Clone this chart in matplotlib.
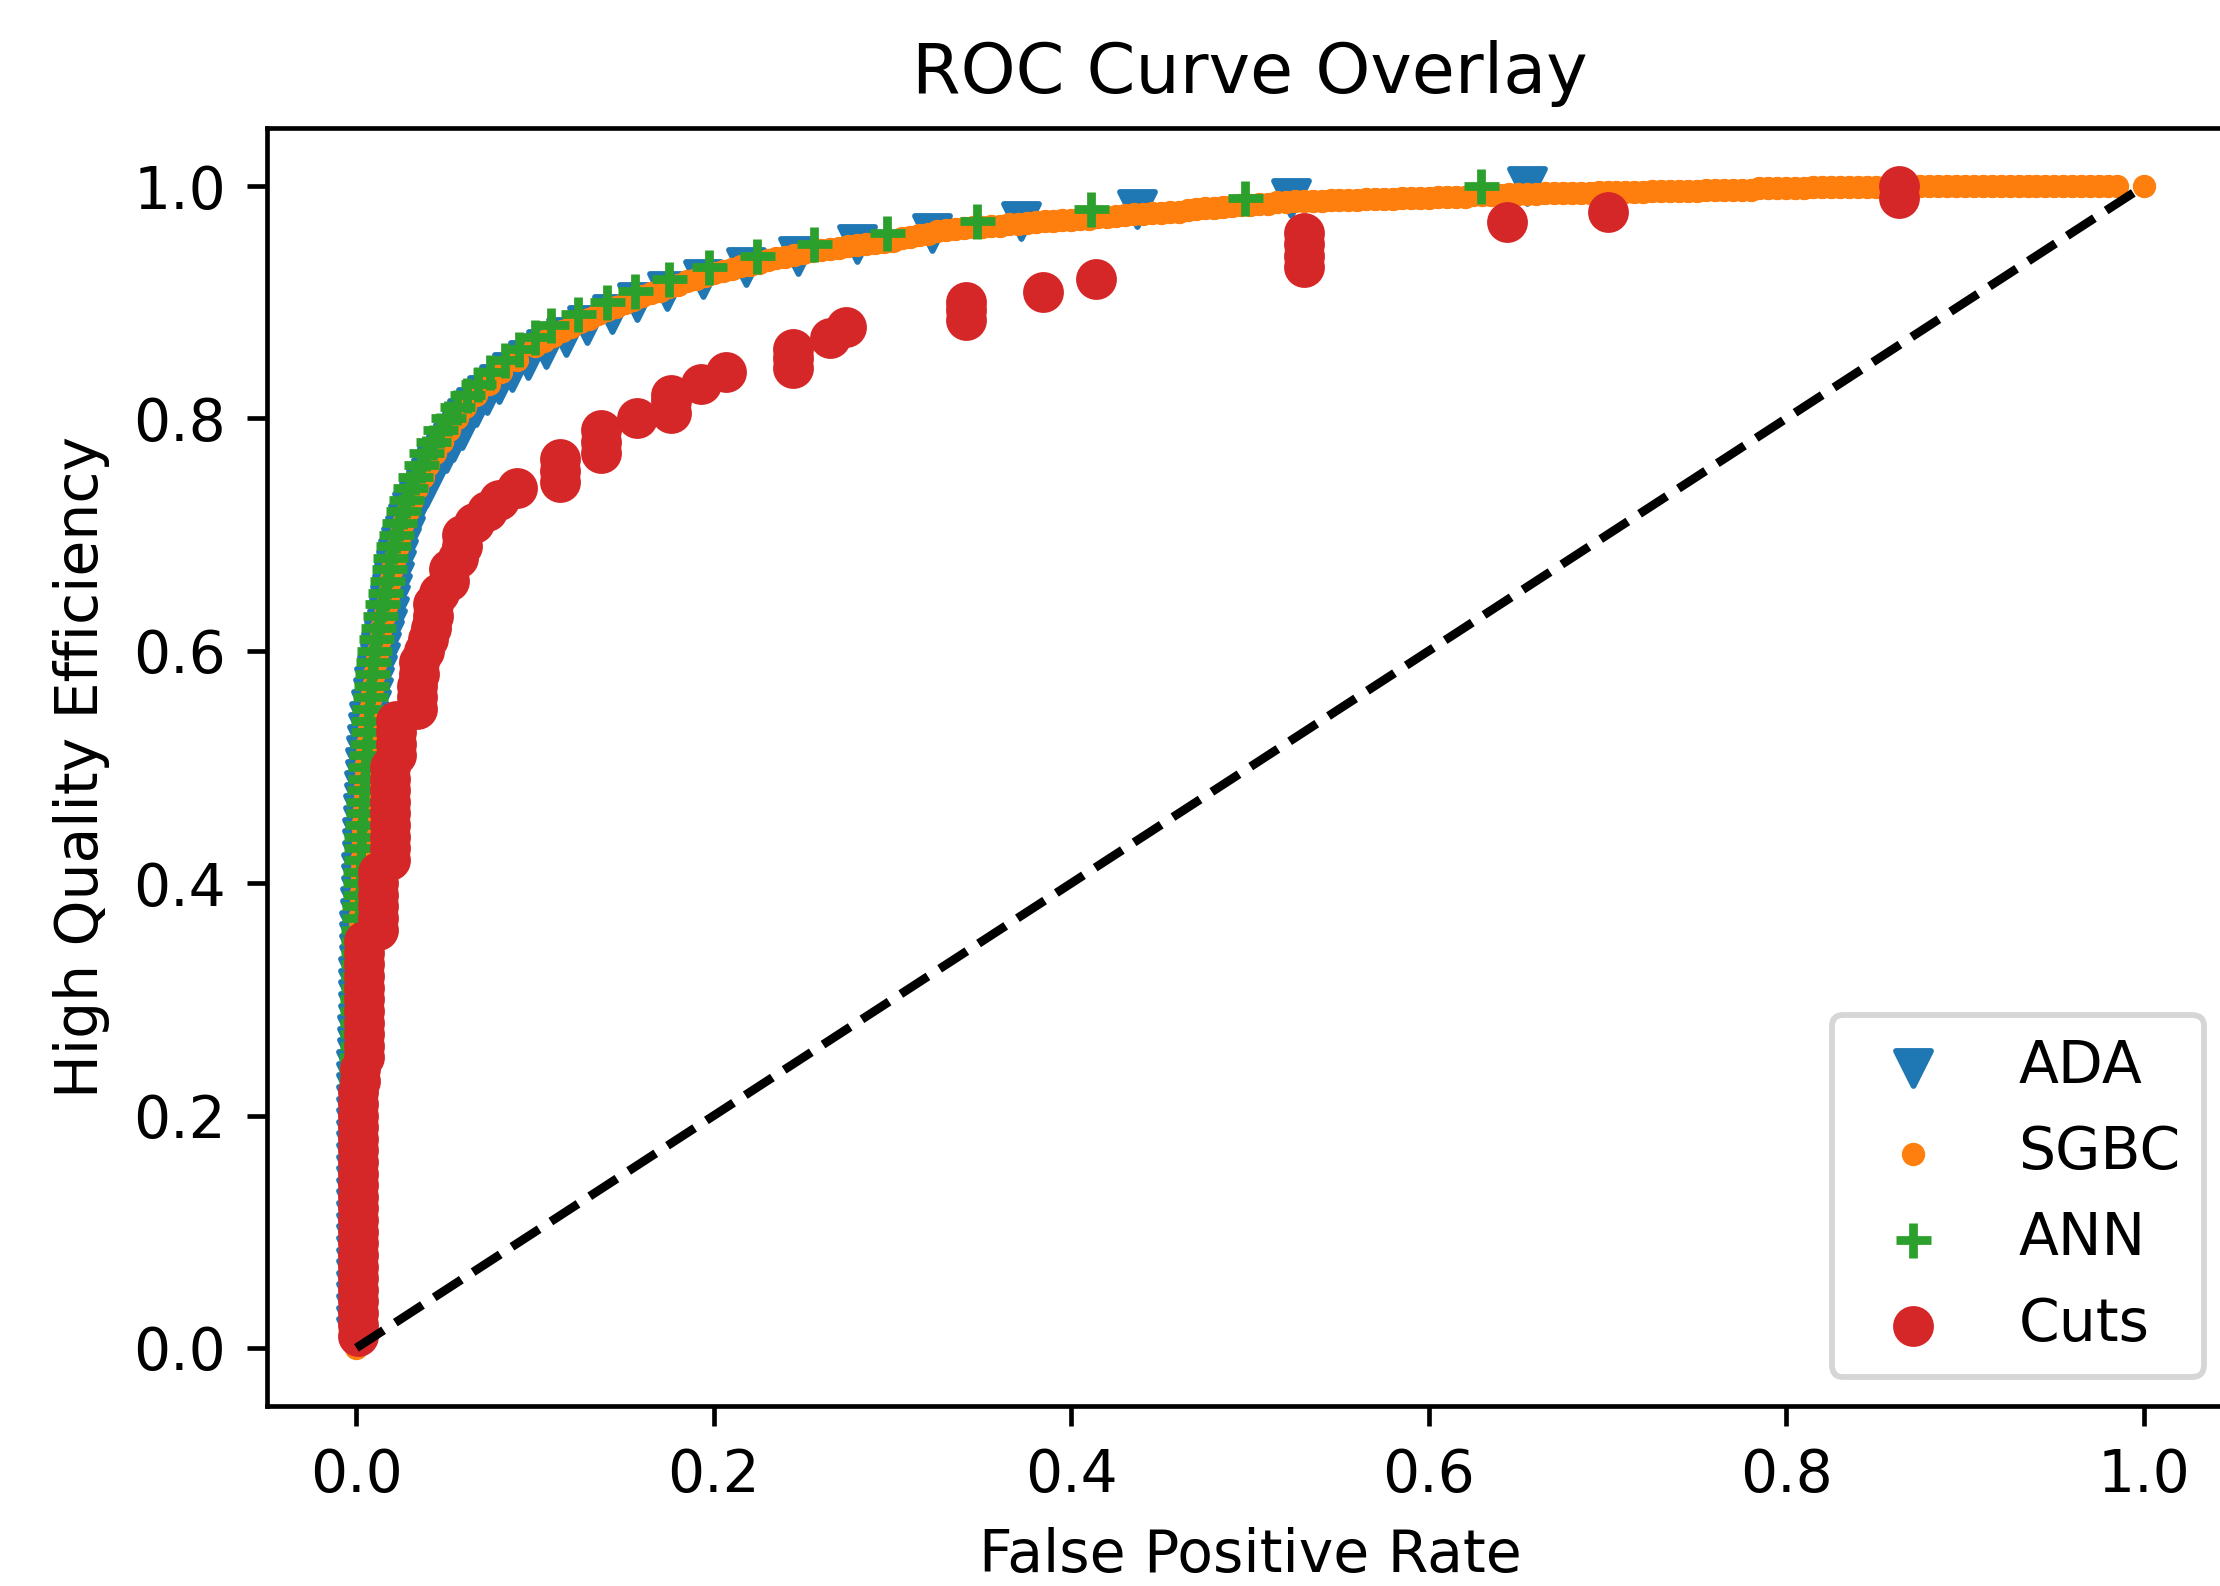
import matplotlib
matplotlib.use("Agg")
from matplotlib import pyplot as plt

# tpr grid shared by the ADA and ANN curves (points every 0.01 in efficiency)
tpr_levels = [0.00, 0.01, 0.02, 0.03, 0.04, 0.05, 0.06, 0.07, 0.08, 0.09,
              0.10, 0.11, 0.12, 0.13, 0.14, 0.15, 0.16, 0.17, 0.18, 0.19,
              0.20, 0.21, 0.22, 0.23, 0.24, 0.25, 0.26, 0.27, 0.28, 0.29,
              0.30, 0.31, 0.32, 0.33, 0.34, 0.35, 0.36, 0.37, 0.38, 0.39,
              0.40, 0.41, 0.42, 0.43, 0.44, 0.45, 0.46, 0.47, 0.48, 0.49,
              0.50, 0.51, 0.52, 0.53, 0.54, 0.55, 0.56, 0.57, 0.58, 0.59,
              0.60, 0.61, 0.62, 0.63, 0.64, 0.65, 0.66, 0.67, 0.68, 0.69,
              0.70, 0.71, 0.72, 0.73, 0.74, 0.75, 0.76, 0.77, 0.78, 0.79,
              0.80, 0.81, 0.82, 0.83, 0.84, 0.85, 0.86, 0.87, 0.88, 0.89,
              0.90, 0.91, 0.92, 0.93, 0.94, 0.95, 0.96, 0.97, 0.98, 0.99, 1.00]

# ADA and ANN start at tpr 0.01 (nothing of them shows below the red at the origin)
ada_fpr = [0, 0, 0, 0, 0, 0, 0, 0, 0,
           0, 0, 0, 0, 0, 0, 0, 0, 0, 0,
           0, 0, 0, 0, 0, 0.0003, 0.0004, 0.0005, 0.0006, 0.0008,
           0.001, 0.001, 0.0011, 0.0012, 0.0013, 0.0015, 0.0017, 0.0019, 0.0021, 0.0023,
           0.0025, 0.0027, 0.0029, 0.0031, 0.0033, 0.0035, 0.0038, 0.0041, 0.0044, 0.0047,
           0.005, 0.0055, 0.006, 0.0065, 0.007, 0.008, 0.009, 0.010, 0.0115, 0.013,
           0.014, 0.0155, 0.017, 0.018, 0.019, 0.020, 0.021, 0.022, 0.0235, 0.025,
           0.027, 0.029, 0.031, 0.035, 0.039, 0.042, 0.045, 0.050, 0.054, 0.059,
           0.062, 0.067, 0.073, 0.080, 0.087, 0.096, 0.106, 0.117, 0.129, 0.143,
           0.157, 0.174, 0.194, 0.218, 0.247, 0.280, 0.322, 0.372, 0.437, 0.523, 0.655]
ada_tpr = tpr_levels[1:]

ann_fpr = [0, 0, 0, 0, 0, 0, 0, 0, 0,
           0, 0, 0, 0, 0, 0, 0, 0, 0, 0,
           0, 0, 0, 0, 0, 0, 0.0003, 0.0003, 0.0004, 0.0004,
           0.0005, 0.0006, 0.0007, 0.0008, 0.0009, 0.001, 0.001, 0.0012, 0.0015, 0.0018,
           0.002, 0.0022, 0.0024, 0.0026, 0.0028, 0.003, 0.0034, 0.0038, 0.0042, 0.0046,
           0.005, 0.0054, 0.0058, 0.0062, 0.0066, 0.007, 0.0075, 0.008, 0.0086, 0.0093,
           0.010, 0.011, 0.012, 0.013, 0.0145, 0.016, 0.017, 0.018, 0.019, 0.0205,
           0.022, 0.024, 0.026, 0.028, 0.030, 0.033, 0.036, 0.039, 0.043, 0.047,
           0.051, 0.056, 0.062, 0.068, 0.075, 0.083, 0.091, 0.100, 0.109, 0.124,
           0.140, 0.156, 0.175, 0.197, 0.224, 0.256, 0.297, 0.347, 0.411, 0.497, 0.629]
ann_tpr = tpr_levels[1:]

# SGBC: steep part on the tpr grid up to 0.85, then the flat part read along fpr
sgbc_fpr = [0, 0, 0, 0, 0, 0, 0, 0, 0, 0,
            0, 0, 0, 0, 0, 0, 0, 0, 0, 0,
            0, 0, 0, 0, 0, 0, 0.0003, 0.0003, 0.0003, 0.0003,
            0.0007, 0.0008, 0.0009, 0.001, 0.0011, 0.0012, 0.0014, 0.0016, 0.0018, 0.002,
            0.0023, 0.0025, 0.0027, 0.0029, 0.0031, 0.0033, 0.0037, 0.0041, 0.0045, 0.0049,
            0.005, 0.0055, 0.006, 0.0065, 0.007, 0.0075, 0.008, 0.009, 0.010, 0.011,
            0.012, 0.013, 0.014, 0.0155, 0.017, 0.018, 0.019, 0.020, 0.0215, 0.023,
            0.0245, 0.026, 0.029, 0.031, 0.034, 0.037, 0.040, 0.044, 0.048, 0.052,
            0.056, 0.061, 0.067, 0.074, 0.081, 0.090,
            0.100, 0.105, 0.110, 0.115, 0.120, 0.125, 0.130, 0.135, 0.140, 0.145,
            0.150, 0.155, 0.160, 0.165, 0.170, 0.175, 0.180, 0.185, 0.190, 0.195,
            0.200, 0.205, 0.210, 0.215, 0.220, 0.225, 0.230, 0.235, 0.240, 0.245,
            0.250, 0.255, 0.260, 0.265, 0.270, 0.275, 0.280, 0.285, 0.290, 0.295,
            0.300, 0.305, 0.310, 0.315, 0.320, 0.325, 0.330, 0.335, 0.340, 0.345,
            0.350, 0.355, 0.360, 0.365, 0.370, 0.375, 0.380, 0.385, 0.390, 0.395,
            0.400, 0.405, 0.410, 0.415, 0.420, 0.425, 0.430, 0.435, 0.440, 0.445,
            0.450, 0.455, 0.460, 0.465, 0.470, 0.475, 0.480, 0.485, 0.490, 0.495,
            0.500, 0.505, 0.510, 0.515, 0.520, 0.525, 0.530, 0.535, 0.540, 0.545,
            0.550, 0.555, 0.560, 0.565, 0.570, 0.575, 0.580, 0.585, 0.590, 0.595,
            0.600, 0.605, 0.610, 0.615, 0.620, 0.625, 0.630, 0.635, 0.640, 0.645,
            0.650, 0.655, 0.660, 0.665, 0.670, 0.675, 0.680, 0.685, 0.690, 0.695,
            0.700, 0.705, 0.710, 0.715, 0.720, 0.725, 0.730, 0.735, 0.740, 0.745,
            0.750, 0.755, 0.760, 0.765, 0.770, 0.775, 0.780, 0.785, 0.790, 0.795,
            0.800, 0.805, 0.810, 0.815, 0.820, 0.825, 0.830, 0.835, 0.840, 0.845,
            0.850, 0.855, 0.860, 0.865, 0.870, 0.875, 0.880, 0.885, 0.890, 0.895,
            0.900, 0.905, 0.910, 0.915, 0.920, 0.925, 0.930, 0.935, 0.940, 0.945,
            0.950, 0.955, 0.960, 0.965, 0.970, 0.975, 0.980, 0.985,
            1.000]
sgbc_tpr = tpr_levels[:86] + [
            0.862, 0.867, 0.871, 0.875, 0.879, 0.883, 0.886, 0.890, 0.893, 0.896,
            0.899, 0.902, 0.905, 0.908, 0.910, 0.913, 0.915, 0.918, 0.920, 0.923,
            0.925, 0.927, 0.929, 0.931, 0.932, 0.934, 0.936, 0.938, 0.939, 0.941,
            0.942, 0.944, 0.945, 0.946, 0.947, 0.948, 0.949, 0.950, 0.951, 0.952,
            0.953, 0.955, 0.956, 0.958, 0.959, 0.961, 0.962, 0.963, 0.964, 0.965,
            0.965, 0.966, 0.966, 0.967, 0.967, 0.968, 0.969, 0.970, 0.970, 0.971,
            0.971, 0.972, 0.972, 0.973, 0.973, 0.974, 0.975, 0.976, 0.976, 0.977,
            0.977, 0.978, 0.978, 0.979, 0.980, 0.981, 0.981, 0.982, 0.983, 0.984,
            0.984, 0.985, 0.985, 0.986, 0.986, 0.987, 0.987, 0.987, 0.987, 0.988,
            0.988, 0.988, 0.988, 0.989, 0.989, 0.989, 0.989, 0.990, 0.990, 0.990,
            0.990, 0.991, 0.991, 0.991, 0.991, 0.992, 0.992, 0.992, 0.992, 0.993,
            0.993, 0.993, 0.993, 0.994, 0.994, 0.994, 0.994, 0.994, 0.994, 0.995,
            0.995, 0.995, 0.995, 0.995, 0.995, 0.996, 0.996, 0.996, 0.996, 0.996,
            0.996, 0.997, 0.997, 0.997, 0.997, 0.997, 0.997, 0.998, 0.998, 0.998,
            0.998, 0.998, 0.998, 0.999, 0.999, 0.999, 0.999, 0.999, 0.999, 0.999,
            0.999, 0.999, 0.999, 0.999, 1.0, 1.0, 1.0, 1.0, 1.0, 1.0,
            1.0, 1.0, 1.0, 1.0, 1.0, 1.0, 1.0, 1.0, 1.0, 1.0,
            1.0, 1.0, 1.0, 1.0, 1.0, 1.0, 1.0, 1.0,
            1.0]

cuts_fpr = [0.001, 0.001, 0.001, 0.001, 0.001, 0.001, 0.001, 0.001, 0.001, 0.001, 0.001,
            0.001, 0.001, 0.001, 0.001, 0.001, 0.001, 0.001, 0.001, 0.001, 0.001, 0.001,
            0.002, 0.002,
            0.0045, 0.0045, 0.0045, 0.0045, 0.0045, 0.0045, 0.0045, 0.0045, 0.0045, 0.0045, 0.0045,
            0.012, 0.012, 0.012, 0.012, 0.012, 0.012,
            0.019, 0.019, 0.019, 0.019, 0.019, 0.019, 0.019, 0.019, 0.019,
            0.022, 0.022, 0.022, 0.022,
            0.034, 0.034, 0.034, 0.035, 0.035, 0.038, 0.040, 0.042, 0.043, 0.043,
            0.046, 0.052, 0.052, 0.057, 0.059, 0.059, 0.066, 0.073, 0.080, 0.090,
            0.114, 0.114, 0.114, 0.137, 0.137, 0.137, 0.157, 0.176, 0.176, 0.176,
            0.193, 0.207, 0.244, 0.244, 0.244, 0.265, 0.274, 0.341, 0.341, 0.341,
            0.384, 0.414, 0.530, 0.530, 0.530, 0.530, 0.644, 0.700, 0.863, 0.863]
cuts_tpr = tpr_levels[1:75] + [
            0.745, 0.755, 0.765, 0.77, 0.78, 0.79, 0.80, 0.805, 0.815, 0.82,
            0.83, 0.84, 0.843, 0.852, 0.86, 0.869, 0.879, 0.885, 0.893, 0.90,
            0.909, 0.92, 0.93, 0.94, 0.95, 0.96, 0.969, 0.978, 0.99, 1.00]

dpi = 420
fig = plt.figure(figsize=(2220 / dpi, 1586 / dpi), dpi=dpi)
# axes run a little past the right edge, like the cropped original
ax = fig.add_axes([0.1203, 0.1135, 0.8856, 0.8058])

ax.scatter(ada_fpr, ada_tpr, marker='v', label='ADA')
ax.scatter(sgbc_fpr, sgbc_tpr, marker='.', label='SGBC')
ax.scatter(ann_fpr, ann_tpr, marker='+', label='ANN')
ax.scatter(cuts_fpr, cuts_tpr, marker='o', label='Cuts')
ax.plot([0, 1], [0, 1], 'k--')

ax.set_xlim(-0.05, 1.05)
ax.set_ylim(-0.05, 1.05)
ax.set_title('ROC Curve Overlay')
ax.set_xlabel('False Positive Rate')
ax.set_ylabel('High Quality Efficiency')
ax.legend(loc='lower right')

fig.savefig('out.png', dpi=dpi)
